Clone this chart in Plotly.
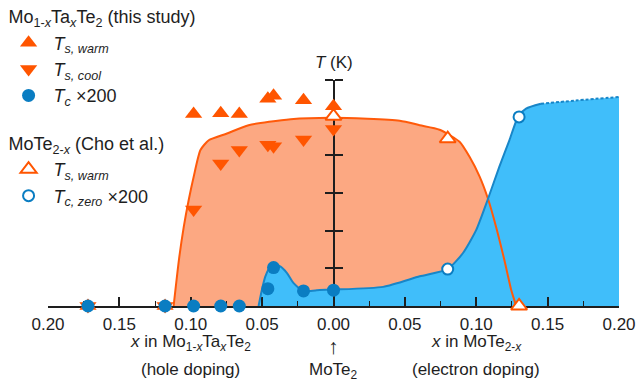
import plotly.graph_objects as go

# ---------------- data ----------------
# Mo1-xTaxTe2 (this study): hole doping, drawn on the negative side
x_ta = [0.172, 0.118, 0.098, 0.079, 0.066, 0.046, 0.042, 0.021, 0.0]
ts_warm_ta = [0, 0, 255, 256, 255, 275, 279, 273, 265]
ts_cool_ta = [0, 0, 128, 189, 207, 214, 212, 221, 235]
tc200_ta = [0, 0, 0, 0, 0, 23, 51, 20, 21]

# MoTe2-x (Cho et al.): electron doping, positive side
x_te_ts = [0.0, 0.08, 0.13]
ts_warm_te = [252, 222, 0]
x_te_tc = [0.08, 0.13]
tc_zero200_te = [49, 251]

# phase boundaries (signed doping: negative = hole, positive = electron)
ts_bound_x = [-0.112, -0.1083, -0.1049, -0.1014, -0.0979, -0.0932, -0.0874, -0.0746,
              -0.0595, -0.03, 0.0, 0.0464, 0.0604, 0.0743, 0.0883, 0.0953, 0.1023,
              0.1081, 0.1139, 0.1197, 0.1244, 0.128]
ts_bound_T = [0, 61, 105, 141, 172, 207, 220, 229, 240, 248, 250, 246, 240, 234, 218,
              198, 172, 143, 105, 61, 22, 0]

sc_x = [-0.0525, -0.0501, -0.0478, -0.0448, -0.042, -0.0373, -0.0327, -0.0281, -0.0211,
        -0.0117, 0.0, 0.0348, 0.0604, 0.08, 0.0906, 0.1, 0.108, 0.1162, 0.1232, 0.1295,
        0.1349, 0.1453]
sc_T = [0, 22, 39, 50.5, 55, 52.6, 44, 30.6, 19.6, 21, 21.8, 25.4, 39.4, 49, 70, 101,
        141, 185, 220, 252, 262, 268.4]
sc_dash_x = [0.1453, 0.1698, 0.2]
sc_dash_T = [268.4, 272.8, 277.5]

x_ticks = [-0.20, -0.15, -0.10, -0.05, 0.0, 0.05, 0.10, 0.15, 0.20]
x_ticktext = ["0.20", "0.15", "0.10", "0.05", "0.00", "0.05", "0.10", "0.15", "0.20"]
x_minor = [-0.175, -0.125, -0.075, -0.025, 0.025, 0.075, 0.125, 0.175]
t_ticks = [50, 100, 150, 200, 250, 300]

# ---------------- style ----------------
FONT = "Liberation Sans, Arial, sans-serif"
TXT = "#1e1e1e"
OR_FILL = "#fca882"
BL_FILL = "#40befa"
OR_LINE = "#ff5a0a"
BL_LINE = "#1886c8"
OR_MK = "#ff5500"
BL_MK = "#0a7dc2"

W, H = 639, 384
ML, MR, MT, MB = 47.5, 19.5, 79.5, 77.5
PW, PH = W - ML - MR, H - MT - MB

hole = [-v for v in x_ta]

fig = go.Figure()

# subplot 1: filled regions
fig.add_trace(go.Scatter(x=ts_bound_x, y=ts_bound_T, mode="lines", fill="tozeroy",
                         fillcolor=OR_FILL, line=dict(width=0, shape="spline", smoothing=0.6),
                         hoverinfo="skip", showlegend=False, xaxis="x", yaxis="y"))
fig.add_trace(go.Scatter(x=sc_x + sc_dash_x[1:], y=sc_T + sc_dash_T[1:], mode="lines",
                         fill="tozeroy", fillcolor=BL_FILL,
                         line=dict(width=0, shape="spline", smoothing=0.6),
                         hoverinfo="skip", showlegend=False, xaxis="x", yaxis="y"))
fig.add_trace(go.Scatter(x=[], y=[], showlegend=False, xaxis="x", yaxis="y3"))

# subplot 2: lines and markers (drawn above the axes)
fig.add_trace(go.Scatter(x=ts_bound_x, y=ts_bound_T, mode="lines",
                         line=dict(color=OR_LINE, width=2, shape="spline", smoothing=0.6),
                         hoverinfo="skip", showlegend=False, xaxis="x2", yaxis="y2",
                         cliponaxis=False))
fig.add_trace(go.Scatter(x=sc_x, y=sc_T, mode="lines",
                         line=dict(color=BL_LINE, width=2, shape="spline", smoothing=0.6),
                         hoverinfo="skip", showlegend=False, xaxis="x2", yaxis="y2",
                         cliponaxis=False))
fig.add_trace(go.Scatter(x=sc_dash_x, y=sc_dash_T, mode="lines",
                         line=dict(color=BL_LINE, width=2, shape="spline", dash="3px,2px"),
                         hoverinfo="skip", showlegend=False, xaxis="x2", yaxis="y2",
                         cliponaxis=False))

g1 = "Mo<sub>1-<i>x</i></sub>Ta<sub><i>x</i></sub>Te<sub>2</sub> (this study)"
g2 = "MoTe<sub>2-<i>x</i></sub> (Cho et al.)"

fig.add_trace(go.Scatter(x=hole, y=ts_warm_ta, mode="markers",
                         marker=dict(symbol="triangle-up", size=15, color=OR_MK, line=dict(width=0)),
                         name="<i>T</i><sub><i>s, warm</i></sub>", legendgroup="a",
                         legendgrouptitle=dict(text=g1), xaxis="x2", yaxis="y2", cliponaxis=False))
fig.add_trace(go.Scatter(x=hole, y=ts_cool_ta, mode="markers",
                         marker=dict(symbol="triangle-down", size=15, color=OR_MK, line=dict(width=0)),
                         name="<i>T</i><sub><i>s, cool</i></sub>", legendgroup="a",
                         xaxis="x2", yaxis="y2", cliponaxis=False))
fig.add_trace(go.Scatter(x=hole, y=tc200_ta, mode="markers",
                         marker=dict(symbol="circle", size=13, color=BL_MK, line=dict(width=0)),
                         name="<i>T</i><sub><i>c</i></sub> ×200", legendgroup="a",
                         xaxis="x2", yaxis="y2", cliponaxis=False))
fig.add_trace(go.Scatter(x=x_te_ts, y=ts_warm_te, mode="markers",
                         marker=dict(symbol="triangle-up", size=14, color="white",
                                     line=dict(width=2, color=OR_MK)),
                         name="<i>T</i><sub><i>s, warm</i></sub>", legendgroup="b",
                         legendgrouptitle=dict(text=g2), xaxis="x2", yaxis="y2", cliponaxis=False))
fig.add_trace(go.Scatter(x=x_te_tc, y=tc_zero200_te, mode="markers",
                         marker=dict(symbol="circle", size=11, color="white",
                                     line=dict(width=2, color=BL_MK)),
                         name="<i>T</i><sub><i>c, zero</i></sub> ×200", legendgroup="b",
                         xaxis="x2", yaxis="y2", cliponaxis=False))

ax_common = dict(showgrid=False, zeroline=False)
fig.update_layout(
    width=W, height=H,
    margin=dict(l=ML, r=MR, t=MT, b=MB, pad=0, autoexpand=False),
    paper_bgcolor="white", plot_bgcolor="rgba(0,0,0,0)",
    font=dict(family=FONT, size=17, color=TXT),
    xaxis=dict(domain=[0, 1], range=[-0.2, 0.2], anchor="y", tickvals=x_ticks,
               ticktext=x_ticktext, ticks="inside", ticklen=9, tickwidth=1.5, tickcolor=TXT,
               showline=True, linecolor=TXT, linewidth=1.5, ticklabelstandoff=2,
               minor=dict(tickvals=x_minor, ticks="inside", ticklen=5, tickwidth=1.2, tickcolor=TXT),
               tickfont=dict(size=17), **ax_common),
    yaxis=dict(domain=[0, 1], range=[0, 300], anchor="free", position=0.5, side="left",
               tickvals=t_ticks, ticks="outside", ticklen=8, tickwidth=1.5, tickcolor=TXT,
               showline=True, linecolor=TXT, linewidth=1.5, showticklabels=False, **ax_common),
    yaxis3=dict(range=[0, 300], overlaying="y", anchor="free", position=0.5, side="right",
                tickvals=t_ticks, ticks="outside", ticklen=8, tickwidth=1.5, tickcolor=TXT,
                showline=False, showticklabels=False, **ax_common),
    xaxis2=dict(domain=[0, 1], range=[-0.2, 0.2], anchor="y2", visible=False, **ax_common),
    yaxis2=dict(domain=[0, 1], range=[0, 300], anchor="x2", visible=False, **ax_common),
    legend=dict(xref="paper", yref="paper", x=(3 - ML) / PW, y=1 + (MT + 2.8) / PH,
                xanchor="left", yanchor="top", bgcolor="rgba(0,0,0,0)",
                font=dict(size=18, color=TXT), grouptitlefont=dict(size=18, color=TXT),
                tracegroupgap=21, itemwidth=40, traceorder="grouped", itemclick=False,
                maxheight=H),
    showlegend=True,
)

ann = [
    ("<i>T</i> (K)", 0.0, "bottom", 6.5, 17),
    ("<i>x</i> in Mo<sub>1-<i>x</i></sub>Ta<sub><i>x</i></sub>Te<sub>2</sub>", -0.1, "top", -23.5, 17),
    ("(hole doping)", -0.1, "top", -51.5, 17),
    ("MoTe<sub>2</sub>", 0.0, "top", -51.5, 17),
    ("<i>x</i> in MoTe<sub>2-<i>x</i></sub>", 0.1, "top", -23.5, 17),
    ("(electron doping)", 0.1, "top", -51.5, 17),
]
for text, xv, ya, ys, fs in ann:
    fig.add_annotation(text=text, x=xv, xref="x", y=1 if ya == "bottom" else 0, yref="paper",
                       yanchor=ya, yshift=ys, showarrow=False, font=dict(size=fs, color=TXT))
# the small "↑" pointing from MoTe2 up to x = 0
fig.add_annotation(text="↑", x=0.0, xref="x", y=0, yref="paper", yanchor="middle",
                   yshift=-40, showarrow=False,
                   font=dict(size=21, color=TXT, family="Liberation Sans, DejaVu Sans"))

# remove the default 8 px page margin so the 639x384 figure fills the window exactly
fig.write_html("out.html", config={"displayModeBar": False},
               post_script="document.body.style.margin='0px';")
